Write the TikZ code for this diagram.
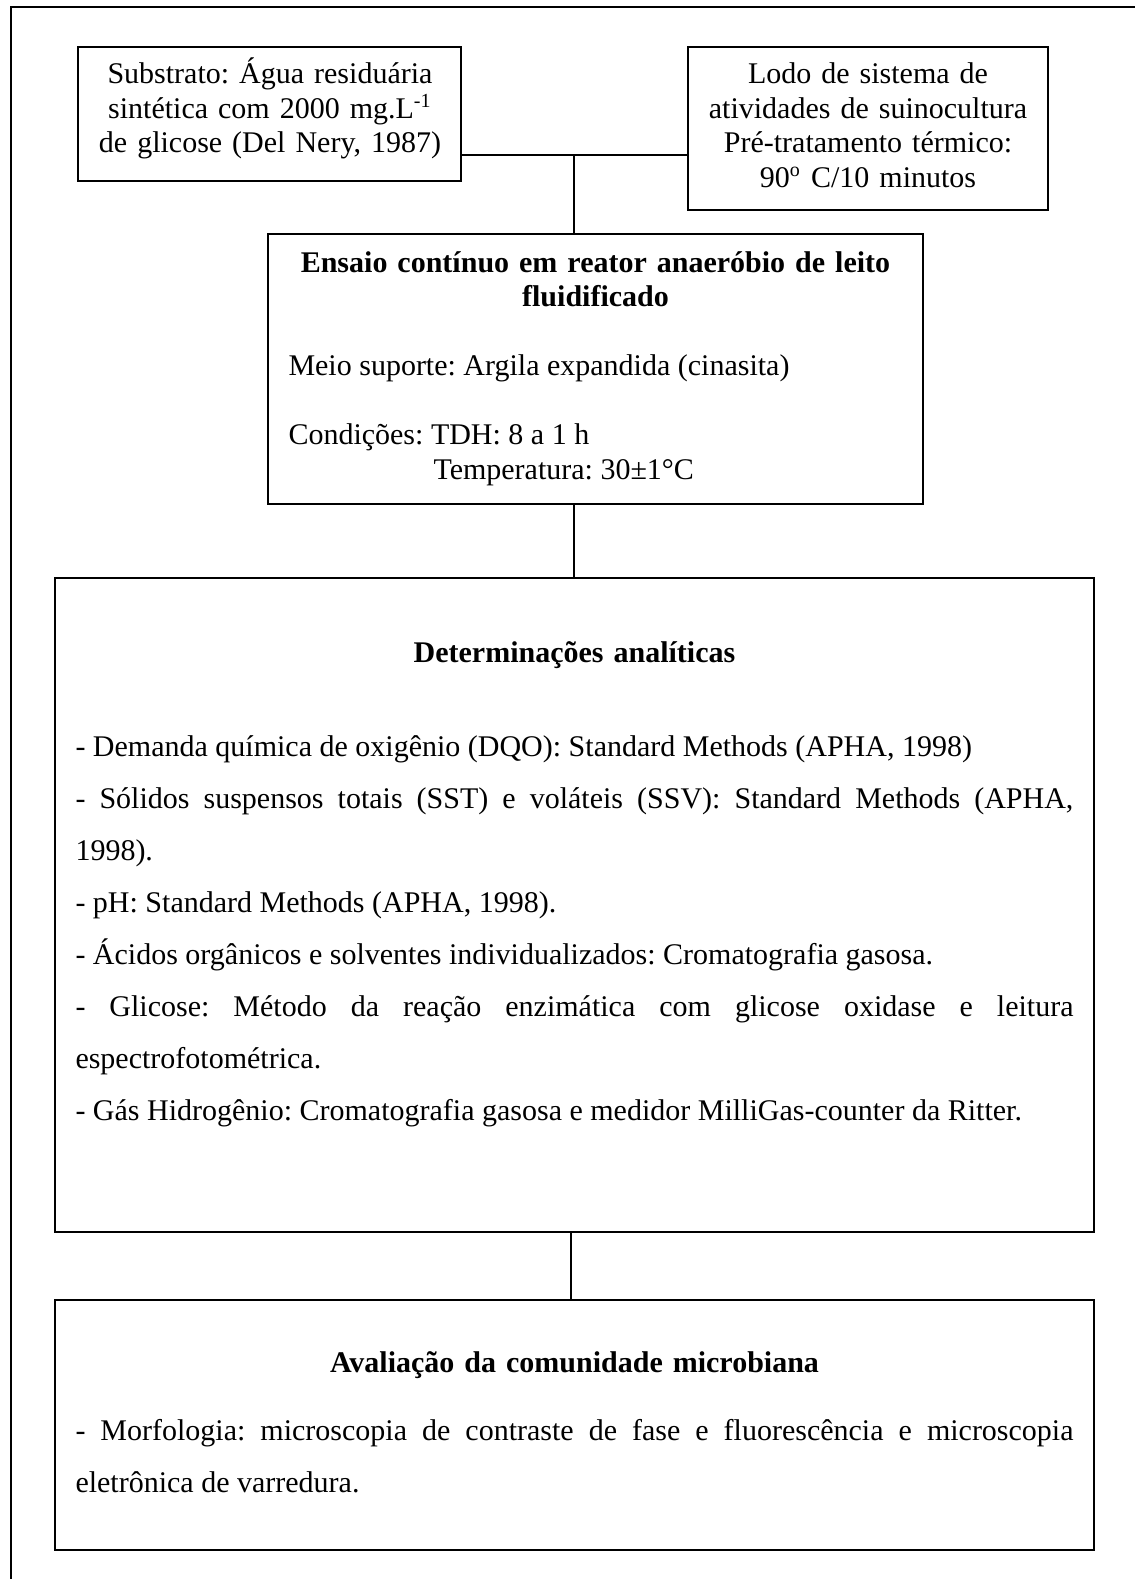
\documentclass[tikz,border=0pt]{standalone}
\usepackage{fontspec}
\setmainfont{Liberation Serif}
\begin{document}
\frenchspacing
\begin{tikzpicture}[x=0.4pt,y=-0.4pt]
\tikzset{
  boxst/.style={draw, rectangle, line width=0.55pt, inner sep=0pt},
  conn/.style={line width=0.45pt},
  ctext/.style={inner sep=0pt, anchor=base, align=center, font=\fontsize{12pt}{13.8pt}\selectfont},
  ltext/.style={inner sep=0pt, anchor=base west, font=\fontsize{12pt}{13.8pt}\selectfont},
  bodytext/.style={inner sep=0pt, anchor=base west, text width=399.2pt, align=justify, font=\fontsize{12pt}{20.8pt}\selectfont},
}
\useasboundingbox (0,0) rectangle (1135,1579);
% outer frame (top and left edges visible)
\draw[line width=0.6pt] (11,1579) -- (11,7) -- (1135,7);

% boxes
\node[boxst, minimum width=153.2pt, minimum height=53.6pt] (b1) at (269.5,114) {};
\node[boxst, minimum width=144pt, minimum height=65.2pt] (b2) at (868,128.5) {};
\node[boxst, minimum width=262pt, minimum height=108pt] (b3) at (595.5,369) {};
\node[boxst, minimum width=415.6pt, minimum height=261.6pt] (b4) at (574.5,905) {};
\node[boxst, minimum width=415.6pt, minimum height=100pt] (b5) at (574.5,1425) {};

% connectors
\coordinate (j) at (574,155);
\coordinate (k) at (571,1266);
\draw[conn] (b1.east |- j) -- (b2.west |- j);
\draw[conn] (j) -- (j |- b3.north);
\draw[conn] (b3.south -| j) -- (b4.north -| j);
\draw[conn] (b4.south -| k) -- (b5.north -| k);

% texts
\node[ctext, text width=150pt] (t1) at (270,84) {\frenchspacing Substrato: Água residuária\\sintética com 2000 mg.L\textsuperscript{-1}\\de glicose (Del Nery, 1987)};
\node[ctext, text width=140pt] (t2) at (868,84) {\frenchspacing Lodo de sistema de\\atividades de suinocultura\\Pré-tratamento térmico:\\90\textsuperscript{o} C/10 minutos};
\node[ctext, text width=250pt, font=\fontsize{12pt}{13.8pt}\selectfont\bfseries] (t3) at (595.5,272) {\frenchspacing Ensaio contínuo em reator anaeróbio de leito\\fluidificado};
\node[ltext] (t4) at (288,375) {\frenchspacing Meio suporte: Argila expandida (cinasita)};
\node[ltext] (t5) at (288,444) {\frenchspacing Condições: TDH: 8 a 1 h};
\node[ltext] (t6) at (433,479) {Temperatura: 30±1°C};

\node[ctext, text width=300pt, font=\fontsize{12pt}{13.8pt}\selectfont\bfseries] (t7) at (574.5,662) {Determinações analíticas};
\node[bodytext] (t8) at (75,756) {\frenchspacing\tolerance=10000\hyphenpenalty=10000\exhyphenpenalty=10000\parindent=0pt\parskip=0pt
- Demanda química de oxigênio (DQO): Standard Methods (APHA, 1998)\par
- Sólidos suspensos totais (SST) e voláteis (SSV): Standard Methods (APHA,\linebreak 1998).\par
- pH: Standard Methods (APHA, 1998).\par
- Ácidos orgânicos e solventes individualizados: Cromatografia gasosa.\par
- Glicose: Método da reação enzimática com glicose oxidase e leitura\linebreak espectrofotométrica.\par
- Gás Hidrogênio: Cromatografia gasosa e medidor MilliGas-counter da Ritter.};

\node[ctext, text width=350pt, font=\fontsize{12pt}{13.8pt}\selectfont\bfseries] (t9) at (574.5,1372) {Avaliação da comunidade microbiana};
\node[bodytext] (t10) at (75,1440) {\frenchspacing\tolerance=10000\hyphenpenalty=10000\exhyphenpenalty=10000\parindent=0pt\parskip=0pt
- Morfologia: microscopia de contraste de fase e fluorescência e microscopia\linebreak eletrônica de varredura.};
\end{tikzpicture}
\end{document}
